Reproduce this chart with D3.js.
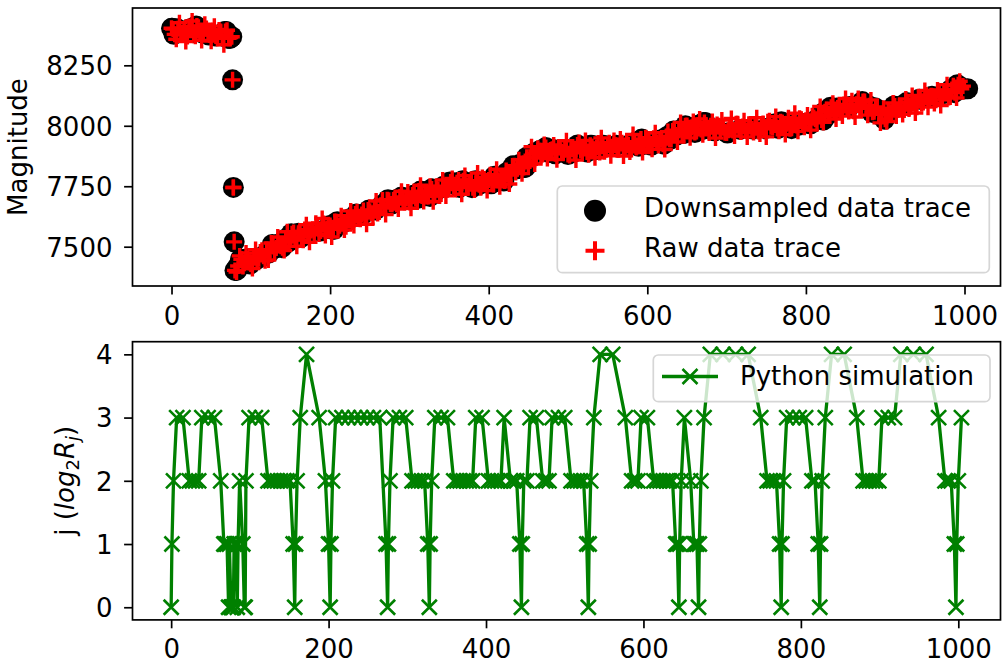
<!DOCTYPE html>
<html>
<head>
<meta charset="utf-8">
<script src="https://cdn.jsdelivr.net/npm/d3@7"></script>
<style>
  body { margin: 0; background: #fff; }
  svg text { font-family: "DejaVu Sans", sans-serif; fill: #000; }
</style>
</head>
<body>
<svg id="chart" width="1002" height="664"></svg>
<script>
// raw magnitude trace, samples at x = 0, 4, 8 ... 996
const rawStep = 4;
const rawA = [
  8403, 8378, 8401, 8380, 8388, 8369, 8400, 8385, 8413, 8389,
  8384, 8402, 8375, 8393, 8371, 8396, 8372, 8390, 8362, 8368,
  7402, 7420, 7448, 7432, 7450, 7428, 7462, 7447, 7478, 7460,
  7488, 7475, 7509, 7495, 7510, 7496, 7530, 7519, 7554, 7537,
  7556, 7540, 7571, 7555, 7567, 7549, 7580, 7565, 7596, 7575,
  7588, 7572, 7603, 7587, 7600, 7583, 7616, 7602, 7635, 7617,
  7633, 7619, 7652, 7638, 7652, 7637, 7671, 7660, 7694, 7677,
  7693, 7676, 7706, 7689, 7701, 7683, 7714, 7699, 7730, 7710,
  7724, 7708, 7739, 7723, 7735, 7718, 7750, 7736, 7768, 7749,
  7764, 7745, 7773, 7754, 7763, 7744, 7773, 7756, 7786, 7764,
  7776, 7760, 7791, 7775, 7788, 7772, 7807, 7797, 7835, 7822,
  7840, 7828, 7870, 7870, 7885, 7867, 7897, 7881, 7910, 7889,
  7903, 7884, 7912, 7893, 7901, 7881, 7910, 7892, 7921, 7899,
  7911, 7892, 7920, 7901, 7910, 7890, 7919, 7901, 7930, 7908,
  7920, 7901, 7930, 7911, 7921, 7902, 7932, 7915, 7945, 7924,
  7937, 7919, 7948, 7931, 7942, 7924, 7956, 7944, 7978, 7962,
  7982, 7968, 8000, 7983, 7993, 7972, 8002, 7985, 8014, 7991,
  8000, 7979, 8005, 7985, 7992, 7970, 7998, 7980, 8008, 7985,
  7997, 7978, 8006, 7987, 7996, 7976, 8005, 7988, 8017, 7996,
  8008, 7989, 8017, 7999, 8008, 7988, 8018, 8001, 8031, 8009,
  8023, 8008, 8041, 8027, 8041, 8024, 8058, 8044, 8077, 8059,
  8074, 8058, 8088, 8070, 8080, 8060, 8089, 8072, 8100, 8077,
  8083, 8056, 8075, 8047, 8049, 8027, 8060, 8048, 8082, 8065,
  8081, 8065, 8096, 8080, 8092, 8077, 8110, 8096, 8127, 8107,
  8122, 8106, 8137, 8121, 8133, 8117, 8150, 8137, 8170, 8153
];
// raw magnitude trace, samples at x = 2, 6, 10 ... 998
const rawB = [
  8400, 8358, 8426, 8380, 8348, 8410, 8433, 8370, 8393, 8353,
  8420, 8380, 8350, 8412, 8362, 8390, 8335, 8395, 8365, 7745,
  7395, 7462, 7418, 7474, 7435, 7410, 7488, 7450, 7485, 7442,
  7445, 7515, 7479, 7540, 7502, 7484, 7562, 7529, 7559, 7502,
  7563, 7527, 7591, 7518, 7572, 7597, 7552, 7617, 7546, 7583,
  7540, 7604, 7578, 7628, 7569, 7613, 7648, 7588, 7645, 7614,
  7650, 7593, 7647, 7623, 7689, 7643, 7693, 7633, 7692, 7676,
  7697, 7656, 7729, 7684, 7726, 7659, 7724, 7689, 7754, 7687,
  7708, 7750, 7686, 7744, 7710, 7776, 7710, 7750, 7782, 7737,
  7776, 7717, 7794, 7747, 7768, 7734, 7805, 7744, 7780, 7732,
  7798, 7757, 7820, 7748, 7791, 7815, 7759, 7823, 7807, 7860,
  7802, 7852, 7835, 7913, 7842, 7907, 7877, 7923, 7865, 7900,
  7921, 7860, 7911, 7890, 7938, 7877, 7904, 7858, 7931, 7888,
  7939, 7880, 7913, 7868, 7929, 7950, 7893, 7921, 7876, 7939,
  7906, 7945, 7875, 7934, 7892, 7964, 7910, 7929, 7889, 7951,
  7943, 7903, 7971, 7918, 7943, 7902, 7976, 7944, 7982, 7933,
  8014, 7960, 8001, 7950, 8018, 7980, 8028, 7963, 8002, 7970,
  8018, 7949, 8000, 8024, 7971, 7982, 8030, 7958, 8008, 7974,
  8021, 7954, 7997, 7972, 8033, 7966, 8009, 7954, 8021, 7995,
  8038, 7977, 8014, 7964, 8033, 7998, 8052, 7977, 8027, 7994,
  8045, 7982, 8034, 8012, 8080, 8014, 8066, 8040, 8093, 8028,
  8076, 8040, 8113, 8059, 8103, 8036, 8113, 8074, 8100, 8044,
  8107, 8058, 8078, 8012, 8072, 8017, 8051, 8094, 8040, 8080,
  8047, 8111, 8069, 8125, 8053, 8117, 8092, 8146, 8077, 8124,
  8092, 8148, 8084, 8138, 8170, 8119, 8166, 8115, 8184, 8164
];
// raw samples caught on the falling edge
const edgeX = [77, 78, 79];
const edgeY = [8190, 7745, 7520];

// downsampled sample positions and their level j = log2(R_j)
const jX = [
  0, 1, 3, 7, 15, 23, 27, 31, 35, 39, 47, 55, 63,
  67, 69, 71, 73, 74, 76, 77, 78, 79, 80, 82, 84, 85, 87, 91, 93, 94, 95,
  99, 107, 115, 123, 127, 131, 135, 139, 143, 147, 151,
  155, 157, 158, 160, 164, 172, 188, 196, 200, 202,
  203, 205, 209, 217, 225, 233, 241, 249, 257, 265,
  273, 275, 276, 278, 282, 290, 298, 306, 310, 314,
  318, 322, 326, 328, 329, 331, 335, 343, 351,
  359, 363, 367, 371, 375, 379, 383, 387, 395, 403,
  407, 411, 415, 419, 423, 431, 435, 439, 443, 445,
  446, 448, 452, 456, 464, 472, 476, 480, 484, 492,
  500, 508, 512, 516, 520, 524, 528, 530, 531, 533,
  537, 545, 561, 577, 585, 589, 593, 597, 605,
  613, 617, 621, 625, 629, 633, 637, 641, 643, 645,
  646, 648, 652, 660, 664, 666, 668, 670, 671, 673,
  677, 685, 701, 717, 733, 749, 757, 761, 765, 769,
  773, 775, 776, 778, 782, 790, 798, 806, 814, 818,
  822, 824, 825, 827, 831, 839, 855, 871, 879, 883,
  887, 891, 895, 899, 903, 911, 919, 927, 943, 959,
  975, 983, 987, 991, 995, 997, 998, 1000, 1004
];
const jV = [
  0, 1, 2, 3, 3, 2, 2, 2, 2, 3, 3, 3, 2,
  1, 1, 1, 0, 1, 0, 0, 0, 0, 1, 1, 0, 1, 2, 1, 0, 0, 2,
  3, 3, 3, 2, 2, 2, 2, 2, 2, 2, 2,
  1, 0, 1, 2, 3, 4, 3, 2, 1, 0,
  1, 2, 3, 3, 3, 3, 3, 3, 3, 3,
  1, 0, 1, 2, 3, 3, 3, 2, 2, 2,
  2, 2, 1, 0, 1, 2, 3, 3, 3,
  2, 2, 2, 2, 2, 2, 2, 3, 3, 2,
  2, 2, 2, 2, 3, 2, 2, 2, 1, 0,
  1, 2, 2, 3, 3, 2, 2, 2, 3, 3,
  3, 2, 2, 2, 2, 2, 1, 0, 1, 2,
  3, 4, 4, 3, 2, 2, 2, 3, 3,
  2, 2, 2, 2, 2, 2, 2, 1, 1, 0,
  1, 2, 3, 2, 1, 1, 1, 0, 1, 2,
  3, 4, 4, 4, 4, 3, 2, 2, 2, 2,
  1, 0, 1, 2, 3, 3, 3, 3, 2, 2,
  1, 0, 1, 2, 3, 4, 4, 3, 2, 2,
  2, 2, 2, 2, 3, 3, 3, 4, 4, 4,
  3, 2, 2, 2, 1, 0, 1, 2, 3
];

const xTicks = [0, 200, 400, 600, 800, 1000];
const magTicks = [7500, 7750, 8000, 8250];
const jTicks = [0, 1, 2, 3, 4];

const FONT = 26;
const svg = d3.select('#chart');

// axes boxes
const topBox = { left: 132.5, right: 1000.5, top: 8, bottom: 286 };
const botBox = { left: 132.5, right: 1000.5, top: 341.7, bottom: 619.9 };

const xTop = d3.scaleLinear().domain([-49.2, 1045.4]).range([topBox.left, topBox.right]);
const yTop = d3.scaleLinear().domain([7337.5, 8487]).range([topBox.bottom, topBox.top]);
const xBot = d3.scaleLinear().domain([-49.1, 1053.6]).range([botBox.left, botBox.right]);
const yBot = d3.scaleLinear().domain([-0.2, 4.2]).range([botBox.bottom, botBox.top]);

// raw points
const gridA = rawA.map((v, i) => ({ x: i * rawStep, y: v }));
const gridB = rawB.map((v, i) => ({ x: i * rawStep + rawStep / 2, y: v }));
const edge = edgeX.map((x, i) => ({ x: x, y: edgeY[i] }));
const raw = gridA.concat(gridB, edge);

// downsampled trace: the raw sample taken at each j position
const pool = gridA.concat(edge);
function rawAt(x) {
  let best = pool[0];
  pool.forEach(p => { if (Math.abs(p.x - x) < Math.abs(best.x - x)) best = p; });
  return best.y;
}
const down = jX.map(x => ({ x: x, y: rawAt(x) }));
const jData = jX.map((x, i) => ({ x: x, j: jV[i] }));

const plusPath = h => `M${-h},0H${h}M0,${-h}V${h}`;
const crossPath = h => `M${-h},${-h}L${h},${h}M${-h},${h}L${h},${-h}`;

function styleAxis(g) {
  g.select('.domain').remove();
  g.selectAll('.tick line').attr('stroke', '#000').attr('stroke-width', 1.7);
  g.selectAll('.tick text').attr('font-size', FONT).attr('font-family', 'DejaVu Sans').attr('fill', '#000');
}

function frame(box) {
  svg.append('rect')
    .attr('x', box.left).attr('y', box.top)
    .attr('width', box.right - box.left).attr('height', box.bottom - box.top)
    .attr('fill', 'none').attr('stroke', '#000').attr('stroke-width', 1.7);
}

// ---------- top panel ----------
svg.append('g')
  .attr('transform', `translate(0,${topBox.bottom})`)
  .call(d3.axisBottom(xTop).tickValues(xTicks).tickSize(8.4).tickPadding(12).tickFormat(d3.format('d')))
  .call(styleAxis);
svg.append('g')
  .attr('transform', `translate(${topBox.left},0)`)
  .call(d3.axisLeft(yTop).tickValues(magTicks).tickSize(8.4).tickPadding(11.6).tickFormat(d3.format('d')))
  .call(styleAxis)
  .selectAll('.tick text').attr('dy', '0.36em');

svg.append('g').selectAll('circle')
  .data(down).enter().append('circle')
  .attr('cx', d => xTop(d.x)).attr('cy', d => yTop(d.y))
  .attr('r', 10.5).attr('fill', '#000');

svg.append('g').selectAll('path')
  .data(raw).enter().append('path')
  .attr('transform', d => `translate(${xTop(d.x)},${yTop(d.y)})`)
  .attr('d', plusPath(8))
  .attr('stroke', '#ff0000').attr('stroke-width', 3.4).attr('fill', 'none');

frame(topBox);

svg.append('text')
  .attr('transform', `translate(27,${(topBox.top + topBox.bottom) / 2}) rotate(-90)`)
  .attr('text-anchor', 'middle').attr('font-size', FONT)
  .text('Magnitude');

// top legend
const leg1 = svg.append('g');
leg1.append('rect')
  .attr('x', 557.3).attr('y', 186).attr('width', 432).attr('height', 86.7)
  .attr('rx', 5).attr('fill', 'rgba(255,255,255,0.8)')
  .attr('stroke', '#d6d6d6').attr('stroke-width', 1.7);
leg1.append('circle').attr('cx', 595).attr('cy', 210.7).attr('r', 11).attr('fill', '#000');
leg1.append('path').attr('transform', 'translate(595,250.7)').attr('d', plusPath(9.5))
  .attr('stroke', '#ff0000').attr('stroke-width', 4).attr('fill', 'none');
leg1.append('text').attr('x', 644).attr('y', 217).attr('font-size', FONT).text('Downsampled data trace');
leg1.append('text').attr('x', 644).attr('y', 257).attr('font-size', FONT).text('Raw data trace');

// ---------- bottom panel ----------
svg.append('g')
  .attr('transform', `translate(0,${botBox.bottom})`)
  .call(d3.axisBottom(xBot).tickValues(xTicks).tickSize(8.4).tickPadding(11.6).tickFormat(d3.format('d')))
  .call(styleAxis);
svg.append('g')
  .attr('transform', `translate(${botBox.left},0)`)
  .call(d3.axisLeft(yBot).tickValues(jTicks).tickSize(8.4).tickPadding(11.6).tickFormat(d3.format('d')))
  .call(styleAxis)
  .selectAll('.tick text').attr('dy', '0.36em');

const line = d3.line().x(d => xBot(d.x)).y(d => yBot(d.j));
svg.append('path')
  .datum(jData)
  .attr('d', line)
  .attr('fill', 'none').attr('stroke', '#008000').attr('stroke-width', 3.3)
  .attr('stroke-linejoin', 'round');

svg.append('g').selectAll('path')
  .data(jData).enter().append('path')
  .attr('transform', d => `translate(${xBot(d.x)},${yBot(d.j)})`)
  .attr('d', crossPath(7.5))
  .attr('stroke', '#008000').attr('stroke-width', 2.6).attr('fill', 'none');

frame(botBox);

// y label with math subscripts
const jLabel = svg.append('text')
  .attr('transform', `translate(74,${(botBox.top + botBox.bottom) / 2}) rotate(-90)`)
  .attr('text-anchor', 'middle').attr('font-size', FONT);
jLabel.append('tspan').text('j (');
jLabel.append('tspan').attr('font-style', 'italic').text('log');
jLabel.append('tspan').attr('font-size', 18).attr('dy', 5).text('2');
jLabel.append('tspan').attr('font-style', 'italic').attr('dy', -5).text('R');
jLabel.append('tspan').attr('font-style', 'italic').attr('font-size', 18).attr('dy', 5).text('j');
jLabel.append('tspan').attr('dy', -5).text(')');

// bottom legend
const leg2 = svg.append('g');
leg2.append('rect')
  .attr('x', 653.3).attr('y', 355).attr('width', 336.7).attr('height', 46.7)
  .attr('rx', 5).attr('fill', 'rgba(255,255,255,0.8)')
  .attr('stroke', '#d6d6d6').attr('stroke-width', 1.7);
leg2.append('line').attr('x1', 662).attr('x2', 718).attr('y1', 376.5).attr('y2', 376.5)
  .attr('stroke', '#008000').attr('stroke-width', 3.3);
leg2.append('path').attr('transform', 'translate(690,376.5)').attr('d', crossPath(7.5))
  .attr('stroke', '#008000').attr('stroke-width', 2.6).attr('fill', 'none');
leg2.append('text').attr('x', 740).attr('y', 385).attr('font-size', FONT).text('Python simulation');
</script>
</body>
</html>
